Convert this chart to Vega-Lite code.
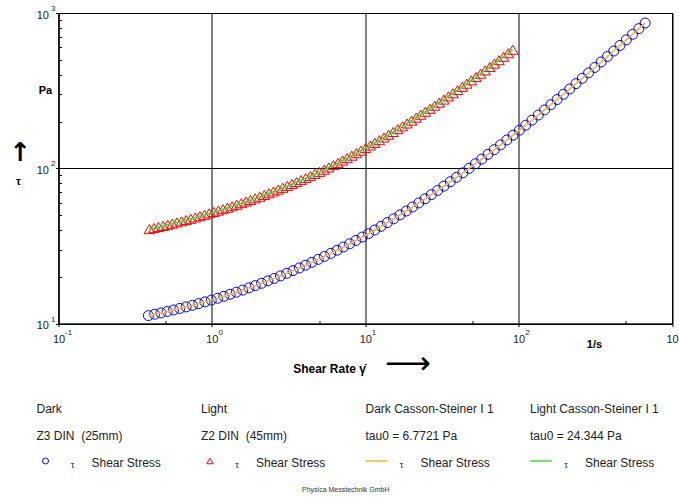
{
  "$schema": "https://vega.github.io/schema/vega-lite/v6.json",
  "background": "white",
  "padding": {"left": 8.5, "top": 4, "right": 5, "bottom": 4},
  "config": {"font": "Liberation Sans", "view": {"stroke": null}},
  "title": {"text": "Physica Messtechnik GmbH", "orient": "bottom", "anchor": "middle", "fontSize": 7, "fontWeight": "normal", "color": "#333", "offset": 16},
  "spacing": 23,
  "datasets": {
    "dark": [
      {"rate":0.3855,"stress":11.26},{"rate":0.4236,"stress":11.49},{"rate":0.4656,"stress":11.72},{"rate":0.5117,"stress":11.97},{"rate":0.5623,"stress":12.24},{"rate":0.618,"stress":12.52},{"rate":0.6792,"stress":12.81},{"rate":0.7464,"stress":13.12},{"rate":0.8204,"stress":13.45},{"rate":0.9016,"stress":13.8},
      {"rate":0.9908,"stress":14.16},{"rate":1.089,"stress":14.56},{"rate":1.197,"stress":14.99},{"rate":1.315,"stress":15.45},{"rate":1.445,"stress":15.93},{"rate":1.589,"stress":16.44},{"rate":1.746,"stress":16.99},{"rate":1.919,"stress":17.57},{"rate":2.109,"stress":18.18},{"rate":2.317,"stress":18.84},
      {"rate":2.547,"stress":19.54},{"rate":2.799,"stress":20.28},{"rate":3.076,"stress":21.07},{"rate":3.381,"stress":21.92},{"rate":3.715,"stress":22.82},{"rate":4.083,"stress":23.78},{"rate":4.488,"stress":24.81},{"rate":4.932,"stress":25.91},{"rate":5.42,"stress":27.08},{"rate":5.957,"stress":28.33},
      {"rate":6.546,"stress":29.67},{"rate":7.195,"stress":31.11},{"rate":7.907,"stress":32.65},{"rate":8.69,"stress":34.3},{"rate":9.55,"stress":36.07},{"rate":10.5,"stress":37.98},{"rate":11.53,"stress":40.06},{"rate":12.68,"stress":42.3},{"rate":13.93,"stress":44.7},{"rate":15.31,"stress":47.3},
      {"rate":16.83,"stress":50.09},{"rate":18.49,"stress":53.09},{"rate":20.32,"stress":56.33},{"rate":22.34,"stress":59.82},{"rate":24.55,"stress":63.6},{"rate":26.98,"stress":67.67},{"rate":29.65,"stress":72.06},{"rate":32.58,"stress":76.81},{"rate":35.81,"stress":81.93},{"rate":39.36,"stress":87.48},
      {"rate":43.25,"stress":93.49},{"rate":47.53,"stress":99.98},{"rate":52.24,"stress":107.0},{"rate":57.41,"stress":114.6},{"rate":63.1,"stress":122.9},{"rate":69.34,"stress":131.8},{"rate":76.21,"stress":141.5},{"rate":83.75,"stress":152.1},{"rate":92.04,"stress":163.5},{"rate":101.2,"stress":175.9},
      {"rate":111.2,"stress":189.5},{"rate":122.2,"stress":204.2},{"rate":134.3,"stress":220.2},{"rate":147.6,"stress":237.7},{"rate":162.2,"stress":256.6},{"rate":178.2,"stress":277.3},{"rate":195.9,"stress":299.8},{"rate":215.3,"stress":324.2},{"rate":236.6,"stress":350.9},{"rate":260.0,"stress":379.9},
      {"rate":285.8,"stress":411.6},{"rate":314.1,"stress":446.1},{"rate":345.1,"stress":483.7},{"rate":379.3,"stress":524.7},{"rate":416.9,"stress":569.3},{"rate":458.1,"stress":618.1},{"rate":503.5,"stress":671.4},{"rate":553.4,"stress":729.4},{"rate":608.1,"stress":792.8},{"rate":668.3,"stress":862.0}
    ],
    "light": [
      {"rate":0.3909,"stress":40.6},{"rate":0.4187,"stress":41.23},{"rate":0.4488,"stress":41.88},{"rate":0.4808,"stress":42.57},{"rate":0.5152,"stress":43.28},{"rate":0.552,"stress":44.02},{"rate":0.5915,"stress":44.79},{"rate":0.6339,"stress":45.6},{"rate":0.6792,"stress":46.44},{"rate":0.7278,"stress":47.32},
      {"rate":0.7799,"stress":48.24},{"rate":0.8356,"stress":49.2},{"rate":0.8953,"stress":50.2},{"rate":0.9594,"stress":51.25},{"rate":1.028,"stress":52.32},{"rate":1.102,"stress":53.41},{"rate":1.18,"stress":54.55},{"rate":1.265,"stress":55.74},{"rate":1.355,"stress":56.98},{"rate":1.452,"stress":58.27},
      {"rate":1.556,"stress":59.63},{"rate":1.667,"stress":61.04},{"rate":1.787,"stress":62.52},{"rate":1.914,"stress":64.06},{"rate":2.051,"stress":65.67},{"rate":2.198,"stress":67.36},{"rate":2.355,"stress":69.12},{"rate":2.523,"stress":70.96},{"rate":2.704,"stress":72.89},{"rate":2.898,"stress":74.91},
      {"rate":3.105,"stress":77.02},{"rate":3.327,"stress":79.23},{"rate":3.565,"stress":81.55},{"rate":3.819,"stress":83.97},{"rate":4.093,"stress":86.51},{"rate":4.385,"stress":89.17},{"rate":4.699,"stress":91.96},{"rate":5.035,"stress":94.89},{"rate":5.395,"stress":97.96},{"rate":5.781,"stress":101.2},
      {"rate":6.195,"stress":104.7},{"rate":6.637,"stress":108.4},{"rate":7.112,"stress":112.2},{"rate":7.621,"stress":116.3},{"rate":8.166,"stress":120.6},{"rate":8.75,"stress":125.1},{"rate":9.376,"stress":129.9},{"rate":10.05,"stress":134.9},{"rate":10.77,"stress":140.2},{"rate":11.54,"stress":145.8},
      {"rate":12.36,"stress":151.7},{"rate":13.24,"stress":157.9},{"rate":14.19,"stress":164.4},{"rate":15.21,"stress":171.3},{"rate":16.29,"stress":178.6},{"rate":17.46,"stress":186.3},{"rate":18.71,"stress":194.4},{"rate":20.04,"stress":202.9},{"rate":21.48,"stress":211.9},{"rate":23.01,"stress":221.3},
      {"rate":24.66,"stress":231.3},{"rate":26.42,"stress":241.8},{"rate":28.31,"stress":252.9},{"rate":30.34,"stress":264.7},{"rate":32.51,"stress":277.1},{"rate":34.83,"stress":290.3},{"rate":37.33,"stress":304.2},{"rate":39.99,"stress":318.9},{"rate":42.85,"stress":334.5},{"rate":45.92,"stress":350.9},
      {"rate":49.2,"stress":368.3},{"rate":52.72,"stress":386.8},{"rate":56.49,"stress":406.3},{"rate":60.53,"stress":427.0},{"rate":64.86,"stress":448.9},{"rate":69.5,"stress":472.2},{"rate":74.47,"stress":496.8},{"rate":79.8,"stress":522.8},{"rate":85.51,"stress":550.5},{"rate":91.62,"stress":579.8}
    ],
    "legend": [
      {"col":0,"row":0,"text":"Dark"},{"col":1,"row":0,"text":"Light"},{"col":2,"row":0,"text":"Dark Casson-Steiner I 1"},{"col":3,"row":0,"text":"Light Casson-Steiner I 1"},
      {"col":0,"row":1,"text":"Z3 DIN\u00a0 (25mm)"},{"col":1,"row":1,"text":"Z2 DIN\u00a0 (45mm)"},{"col":2,"row":1,"text":"tau0 = 6.7721 Pa"},{"col":3,"row":1,"text":"tau0 = 24.344 Pa"},
      {"col":0,"row":2,"text":"Shear Stress"},{"col":1,"row":2,"text":"Shear Stress"},{"col":2,"row":2,"text":"Shear Stress"},{"col":3,"row":2,"text":"Shear Stress"}
    ]
  },
  "vconcat": [
    {
      "width": 613.5,
      "height": 310.6,
      "view": {"stroke": "black", "strokeWidth": 1},
      "resolve": {"axis": {"x": "independent", "y": "independent"}},
      "layer": [
        {
          "data": {"name": "dark"},
          "mark": {"type": "point", "shape": "circle", "filled": false, "stroke": "#0000ff", "strokeWidth": 1, "size": 100, "opacity": 1},
          "encoding": {
            "x": {"field": "rate", "type": "quantitative", "scale": {"type": "log", "domain": [0.1, 1000], "nice": false},
              "axis": {"orient": "bottom", "values": [0.1, 1, 10, 100, 1000], "labelExpr": "'10'", "grid": true, "gridColor": "black", "gridOpacity": 1, "gridWidth": 1, "domainColor": "black", "tickColor": "black", "tickSize": 3, "labelFontSize": 11, "labelColor": "#222", "labelPadding": 7, "labelFlush": false, "labelOverlap": false,
                "title": "Shear Rate γ̇", "titleFontWeight": "bold", "titleFontSize": 12, "titleColor": "black", "titleX": 270.5, "titleY": 44.7, "titleAlign": "center", "titleBaseline": "middle"}},
            "y": {"field": "stress", "type": "quantitative", "scale": {"type": "log", "domain": [10, 1000], "nice": false},
              "axis": {"orient": "left", "values": [10, 100, 1000], "labelExpr": "'10'", "grid": true, "gridColor": "black", "gridOpacity": 1, "gridWidth": 1, "domainColor": "black", "tickColor": "black", "tickSize": 3, "labelFontSize": 11, "labelColor": "#222", "labelPadding": 7, "labelOffset": 2, "labelBaseline": "middle", "labelFlush": false, "labelOverlap": false,
                "title": "Pa", "titleAngle": 0, "titleFontWeight": "bold", "titleFontSize": 11, "titleColor": "black", "titleX": -13.5, "titleY": 77.3, "titleAlign": "center", "titleBaseline": "middle"}}
          }
        },
        {
          "data": {"name": "light"},
          "mark": {"type": "point", "shape": "triangle-up", "filled": false, "stroke": "#ff0000", "strokeWidth": 1, "size": 110, "opacity": 1},
          "encoding": {
            "x": {"field": "rate", "type": "quantitative", "scale": {"type": "log", "domain": [0.1, 1000], "nice": false},
              "axis": {"orient": "bottom", "values": [0.1, 1, 10, 100, 1000], "labelExpr": "'' + round(log(datum.value)/LN10)", "grid": false, "domain": false, "ticks": false, "tickSize": 0, "labelFontSize": 8, "labelColor": "#222", "labelAlign": "left", "labelOffset": 6, "labelPadding": 5, "labelFlush": false, "labelOverlap": false,
                "title": "⟶", "titleFont": "DejaVu Sans", "titleFontWeight": "normal", "titleFontSize": 32, "titleColor": "black", "titleX": 349, "titleY": 39.7, "titleAlign": "center", "titleBaseline": "middle"}},
            "y": {"field": "stress", "type": "quantitative", "scale": {"type": "log", "domain": [10, 1000], "nice": false},
              "axis": {"orient": "left", "values": [10, 100, 1000], "labelExpr": "'' + round(log(datum.value)/LN10)", "grid": false, "domain": false, "ticks": false, "tickSize": 0, "labelFontSize": 8, "labelColor": "#222", "labelAlign": "left", "labelPadding": 8, "labelOffset": -4.5, "labelBaseline": "middle", "labelFlush": false, "labelOverlap": false,
                "title": "↑", "titleAngle": 0, "titleFont": "DejaVu Sans", "titleFontWeight": "bold", "titleFontSize": 26, "titleColor": "black", "titleX": -38.5, "titleY": 139.5, "titleAlign": "center", "titleBaseline": "middle"}}
          }
        },
        {
          "data": {"name": "dark"},
          "mark": {"type": "line", "color": "#f6b420", "strokeWidth": 1.5},
          "encoding": {
            "x": {"field": "rate", "type": "quantitative", "scale": {"type": "log", "domain": [0.1, 1000], "nice": false},
              "axis": {"orient": "bottom", "values": [0.5, 5, 50, 500], "labels": false, "grid": false, "domain": false, "tickColor": "black", "tickSize": -3,
                "title": "1/s", "titleFontWeight": "bold", "titleFontSize": 11, "titleColor": "black", "titleX": 535.5, "titleY": 20.7, "titleAlign": "center", "titleBaseline": "middle"}},
            "y": {"field": "stress", "type": "quantitative", "scale": {"type": "log", "domain": [10, 1000], "nice": false},
              "axis": {"orient": "left", "values": [20, 30, 40, 50, 60, 70, 80, 90, 200, 300, 400, 500, 600, 700, 800, 900], "labels": false, "grid": false, "domain": false, "tickColor": "black", "tickSize": -3,
                "title": "τ", "titleAngle": 0, "titleFontWeight": "bold", "titleFontSize": 11, "titleColor": "black", "titleX": -40.5, "titleY": 168.3, "titleAlign": "center", "titleBaseline": "middle"}}
          }
        },
        {
          "data": {"name": "light"},
          "mark": {"type": "line", "color": "#33dd33", "strokeWidth": 1.5},
          "encoding": {
            "x": {"field": "rate", "type": "quantitative", "scale": {"type": "log", "domain": [0.1, 1000], "nice": false}, "axis": null},
            "y": {"field": "stress", "type": "quantitative", "scale": {"type": "log", "domain": [10, 1000], "nice": false}, "axis": null}
          }
        }
      ]
    },
    {
      "width": 471.5,
      "height": 54,
      "view": {"stroke": null},
      "data": {"name": "legend"},
      "encoding": {
        "x": {"field": "col", "type": "quantitative", "scale": {"domain": [0.1337, 3]}, "axis": null},
        "y": {"field": "row", "type": "quantitative", "scale": {"domain": [0, 2], "reverse": true}, "axis": null}
      },
      "layer": [
        {"transform": [{"filter": "datum.row < 2"}], "mark": {"type": "text", "align": "left", "baseline": "middle", "fontSize": 12, "color": "#222"}, "encoding": {"text": {"field": "text"}}},
        {"transform": [{"filter": "datum.row == 2"}], "mark": {"type": "text", "align": "left", "baseline": "middle", "fontSize": 12, "color": "#222", "dx": 55}, "encoding": {"text": {"field": "text"}}},
        {"transform": [{"filter": "datum.row == 2"}], "mark": {"type": "text", "align": "center", "baseline": "middle", "fontSize": 9, "color": "#222", "dx": 36, "dy": 2, "text": "τ"}},
        {"transform": [{"filter": "datum.row == 2 && datum.col == 0"}], "mark": {"type": "point", "shape": "circle", "filled": false, "stroke": "#0000ff", "strokeWidth": 1, "size": 36, "opacity": 1, "xOffset": 9, "yOffset": -2}},
        {"transform": [{"filter": "datum.row == 2 && datum.col == 1"}], "mark": {"type": "point", "shape": "triangle-up", "filled": false, "stroke": "#ff0000", "strokeWidth": 1, "size": 40, "opacity": 1, "xOffset": 9, "yOffset": -2}},
        {"transform": [{"filter": "datum.row == 2 && datum.col == 2"}], "mark": {"type": "point", "shape": "stroke", "filled": false, "stroke": "#f8c860", "strokeWidth": 2, "size": 484, "opacity": 1, "xOffset": 11, "yOffset": -2}},
        {"transform": [{"filter": "datum.row == 2 && datum.col == 3"}], "mark": {"type": "point", "shape": "stroke", "filled": false, "stroke": "#66ee66", "strokeWidth": 2, "size": 484, "opacity": 1, "xOffset": 11, "yOffset": -2}}
      ]
    }
  ]
}
